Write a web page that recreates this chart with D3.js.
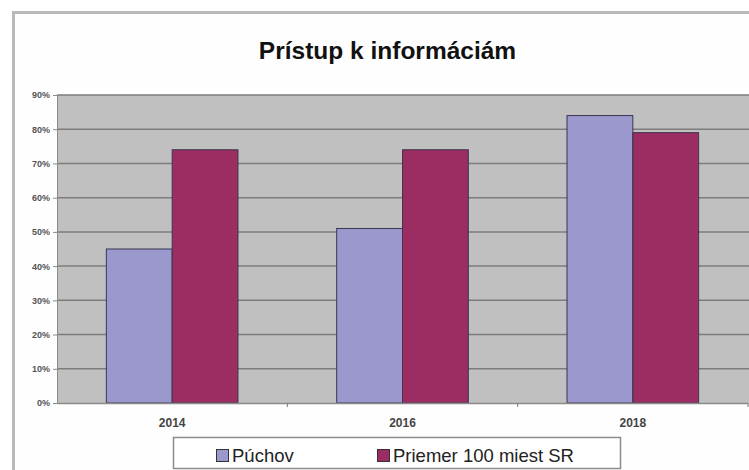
<!DOCTYPE html>
<html><head><meta charset="utf-8">
<script src="https://cdn.jsdelivr.net/npm/d3@7"></script>
<style>body{margin:0;background:#fff}svg{display:block}</style>
</head><body>
<svg id="c" width="749" height="470"></svg>
<script>
const title = "Prístup k informáciám";
const categories = ["2014", "2016", "2018"];
const seriesNames = ["Púchov", "Priemer 100 miest SR"];
const puchov = [45, 51, 84];
const priemer = [74, 74, 79];
const yTicks = [0, 10, 20, 30, 40, 50, 60, 70, 80, 90];
const colors = ["#9a98cc", "#9b2d62"];

const svg = d3.select("#c");
const W = 749, H = 470;
const m = {left: 57, right: 748, top: 95, bottom: 403};
const FF = "Liberation Sans, Arial, sans-serif";

// frame
svg.append("rect").attr("x", 13.5).attr("y", 12.5).attr("width", 800).attr("height", 500)
  .attr("fill", "#fefefe").attr("stroke", "#b9b9b9").attr("stroke-width", 3);

svg.append("text").attr("x", 387.5).attr("y", 59).attr("text-anchor", "middle")
  .attr("font-family", FF).attr("font-weight", "bold")
  .attr("font-size", 24.5).attr("fill", "#111").text(title);

const y = d3.scaleLinear().domain([0, 90]).range([m.bottom, m.top]);
const x0 = d3.scaleBand().domain(categories).range([m.left, m.right]).padding(0);
const x1 = d3.scaleBand().domain(seriesNames).range([0, x0.bandwidth()]).paddingInner(0).paddingOuter(0.75);

// plot background
svg.append("rect").attr("x", m.left).attr("y", m.top).attr("width", m.right - m.left + 5)
  .attr("height", m.bottom - m.top).attr("fill", "#c0c0c0");

// gridlines
svg.append("g").selectAll("line").data(yTicks.filter(d => d > 0)).join("line")
  .attr("x1", m.left).attr("x2", W).attr("y1", d => y(d)).attr("y2", d => y(d))
  .attr("stroke", "#7c7c7c").attr("stroke-width", 1.5);

// y axis
const yAxis = svg.append("g").attr("transform", `translate(${m.left},0)`)
  .call(d3.axisLeft(y).tickValues(yTicks).tickFormat(d => d + "%").tickSize(4).tickPadding(3));
yAxis.select(".domain").attr("stroke", "#8a8a8a");
yAxis.selectAll(".tick line").attr("stroke", "#8a8a8a");
yAxis.selectAll("text").attr("font-family", FF).attr("font-weight", "bold")
  .attr("font-size", 9).attr("fill", "#555");

// bars
const data = categories.map((c, i) => ({c, vals: [puchov[i], priemer[i]]}));
const g = svg.append("g").selectAll("g").data(data).join("g")
  .attr("transform", d => `translate(${x0(d.c)},0)`);
g.selectAll("rect").data(d => d.vals.map((v, j) => ({v, s: seriesNames[j], j}))).join("rect")
  .attr("x", d => x1(d.s)).attr("width", x1.bandwidth())
  .attr("y", d => y(d.v)).attr("height", d => y(0) - y(d.v))
  .attr("fill", d => colors[d.j]).attr("stroke", "#3b3550").attr("stroke-width", 1);

// x axis
const xAxis = svg.append("g").attr("transform", `translate(0,${m.bottom})`)
  .call(d3.axisBottom(x0).tickSize(0).tickPadding(15));
xAxis.select(".domain").attr("stroke", "#8a8a8a").attr("stroke-width", 1.5);
xAxis.selectAll("text").attr("font-family", FF).attr("font-weight", "bold")
  .attr("font-size", 12).attr("fill", "#444");
svg.append("g").selectAll("line").data(categories).join("line")
  .attr("x1", d => x0(d) + x0.bandwidth()).attr("x2", d => x0(d) + x0.bandwidth())
  .attr("y1", m.bottom).attr("y2", m.bottom + 4).attr("stroke", "#777");

// legend
const lg = svg.append("g");
lg.append("rect").attr("x", 173.5).attr("y", 437.5).attr("width", 447).attr("height", 31)
  .attr("fill", "#fff").attr("stroke", "#8c8c8c").attr("stroke-width", 1.5);
const lx = [216, 377];
seriesNames.forEach((s, j) => {
  lg.append("rect").attr("x", lx[j] + 0.5).attr("y", 449.5).attr("width", 12).attr("height", 12)
    .attr("fill", colors[j]).attr("stroke", "#333").attr("stroke-width", 1);
  lg.append("text").attr("x", lx[j] + 16).attr("y", 462).attr("font-family", FF)
    .attr("font-size", 18.5).attr("fill", "#222").text(s);
});
</script>
</body></html>
